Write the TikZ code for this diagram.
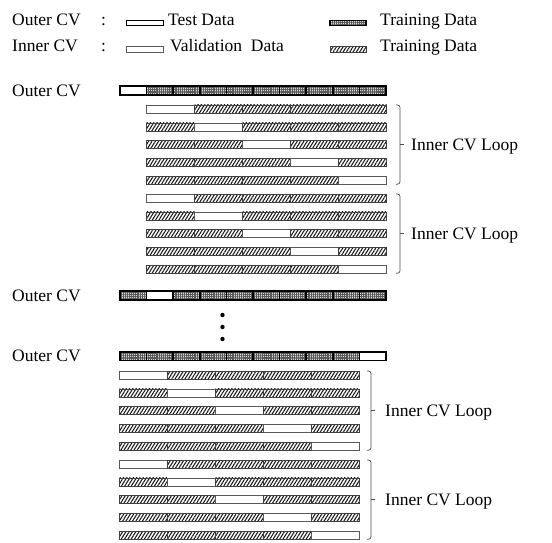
\documentclass[tikz,border=0pt]{standalone}
\usepackage{fontspec}
\setmainfont{Liberation Serif}
\usetikzlibrary{patterns.meta}

\tikzset{
  lbl/.style={inner sep=0pt, font=\fontsize{17.5}{20}\selectfont},
  outertest/.style={draw=black, line width=1.6pt, fill=white},
  outertrain/.style={draw=black, line width=1.6pt, preaction={fill=gray!30},
    pattern={Hatch[angle=0,distance=1.9pt,line width=0.45pt]}, pattern color=black!65},
  innerval/.style={draw=black!65, line width=0.6pt, fill=white},
  innertrain/.style={draw=black!75, line width=0.5pt,
    pattern={Lines[angle=58,distance=2.8pt,line width=1.05pt]}, pattern color=black!90},
  bracket/.style={draw=black!70, line width=0.7pt},
}

% one outer fold: ten segments, #3 marks the test segment
\newcommand\outerfold[3]{%
  \foreach \s in {0,...,9} {
    \pgfmathsetmacro\xa{#1+26.6*\s}
    \ifnum\s=#3
      \draw[outertest] (\xa,#2-4.3) rectangle ++(26.6,8.6);
    \else
      \draw[outertrain] (\xa,#2-4.3) rectangle ++(26.6,8.6);
    \fi
  }
  \foreach \s in {0,...,9} {
    \pgfmathsetmacro\xa{#1+26.6*\s}
    \draw[line width=1.6pt] (\xa,#2-4.3) rectangle ++(26.6,8.6);
  }
}

% ten inner folds (two inner loops) starting at x=#1, first row centre #2
\newcommand\innerfolds[2]{%
  \foreach \r in {0,...,9} {
    \pgfmathsetmacro\yc{#2+17.8*\r}
    \pgfmathtruncatemacro\w{mod(\r,5)}
    \foreach \s in {0,...,4} {
      \pgfmathsetmacro\xa{#1+48*\s}
      \ifnum\s=\w
        \draw[innerval] (\xa,\yc-4) rectangle ++(48,8);
      \else
        \draw[innertrain] (\xa,\yc-4) rectangle ++(48,8);
      \fi
    }
  }
}

\begin{document}
\begin{tikzpicture}[x=1pt,y=-1pt]
\useasboundingbox (0,0) rectangle (552,543);

% legend
\node[lbl, anchor=base west] (lgouter) at (12,26) {Outer CV};
\node[lbl, anchor=base west] (lgcolon1) at (101,26) {:};
\draw[draw=black, line width=0.9pt, fill=white] (126,20.5) rectangle (163,25.8);
\node[lbl, anchor=base west] (lgtest) at (168,26) {Test Data};
\draw[outertrain, line width=1.2pt] (330,20.5) rectangle (366,25.8);
\node[lbl, anchor=base west] (lgtrain1) at (380,26) {Training Data};

\node[lbl, anchor=base west] (lginner) at (12,52) {Inner CV};
\node[lbl, anchor=base west] (lgcolon2) at (101,52) {:};
\draw[innerval] (126,46.5) rectangle (163,52);
\node[lbl, anchor=base west] (lgval) at (170,52) {Validation\ \ Data};
\draw[innertrain] (330,46.5) rectangle (366,52);
\node[lbl, anchor=base west] (lgtrain2) at (380,52) {Training Data};

% first outer fold and its inner loops
\node[lbl, anchor=base west] (oc1) at (12,96) {Outer CV};
\outerfold{120}{90.5}{0}
\innerfolds{146.7}{109}

% second outer fold
\node[lbl, anchor=base west] (oc2) at (12,301.5) {Outer CV};
\outerfold{120}{295.5}{1}

% ellipsis
\fill (222.5,315) circle[radius=2.2pt];
\fill (222.5,327) circle[radius=2.2pt];
\fill (222.5,339) circle[radius=2.2pt];

% last outer fold and its inner loops
\node[lbl, anchor=base west] (oc3) at (12,361.5) {Outer CV};
\outerfold{120}{356}{9}
\innerfolds{119.5}{375}

% braces and loop labels
\draw[bracket, rounded corners=2.5pt] (396,105) -- (400,105) -- (400,184.2) -- (396,184.2);
\draw[bracket] (400,144.6) -- (404,144.6);
\node[lbl, anchor=base west] (loop1) at (411,150.4) {Inner CV Loop};

\draw[bracket, rounded corners=2.5pt] (396,194) -- (400,194) -- (400,273.2) -- (396,273.2);
\draw[bracket] (400,233.6) -- (404,233.6);
\node[lbl, anchor=base west] (loop2) at (411,239.4) {Inner CV Loop};

\draw[bracket, rounded corners=2.5pt] (367,371) -- (371,371) -- (371,450.2) -- (367,450.2);
\draw[bracket] (371,410.6) -- (375,410.6);
\node[lbl, anchor=base west] (loop3) at (385,416.4) {Inner CV Loop};

\draw[bracket, rounded corners=2.5pt] (367,460) -- (371,460) -- (371,539.2) -- (367,539.2);
\draw[bracket] (371,499.6) -- (375,499.6);
\node[lbl, anchor=base west] (loop4) at (385,505.4) {Inner CV Loop};
\end{tikzpicture}
\end{document}
